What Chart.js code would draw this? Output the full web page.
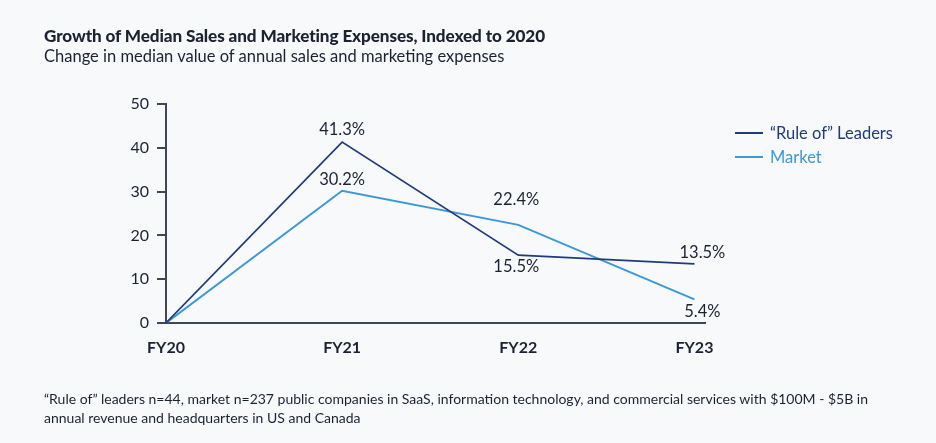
<!DOCTYPE html>
<html>
<head>
<meta charset="utf-8">
<script src="https://cdn.jsdelivr.net/npm/chart.js@4.4.1/dist/chart.umd.min.js"></script>
<style>
  html, body { margin: 0; padding: 0; background: #f8f9fa; }
  #wrap { position: relative; width: 936px; height: 443px; overflow: hidden; font-family: Lato, "Noto Sans", sans-serif; color: #1b2232; }
  #chart { position: absolute; left: 0; top: 0; }
  .txt { position: absolute; left: 44px; white-space: nowrap; }
  #title { top: 25px; font-size: 17.1px; font-weight: 900; letter-spacing: -0.1px; }
  #subtitle { top: 46px; font-size: 16.5px; }
  #note { top: 389px; font-size: 14px; line-height: 19px; }
  #legend { position: absolute; left: 735px; top: 121px; font-size: 16.5px; }
  .lg { display: flex; align-items: center; height: 24px; }
  .lg span.sw { display: inline-block; width: 28px; height: 2px; margin-right: 7px; }
</style>
</head>
<body>
<div id="wrap">
  <canvas id="chart" width="936" height="443"></canvas>
  <div class="txt" id="title">Growth of Median Sales and Marketing Expenses, Indexed to 2020</div>
  <div class="txt" id="subtitle">Change in median value of annual sales and marketing expenses</div>
  <div class="txt" id="note">“Rule of” leaders n=44, market n=237 public companies in SaaS, information technology, and commercial services with $100M - $5B in<br>annual revenue and headquarters in US and Canada</div>
  <div id="legend"></div>
</div>
<script>
// data
const categories = ['FY20', 'FY21', 'FY22', 'FY23'];
const leaders = [0, 41.3, 15.5, 13.5];
const market = [0, 30.2, 22.4, 5.4];
const yTicks = [0, 10, 20, 30, 40, 50];

// label placement (px offset from point), null = no label
const leaderLabelDy = [null, -12, 12, -11];
const marketLabelDy = [null, -11, -25, 12];
const labelDx = [0, 0, -2, 8];

const navy = '#1f3b7c';
const sky = '#3b99d9';
const ink = '#1b2232';
const axisColor = '#3d4757';

const pointLabels = {
  id: 'pointLabels',
  afterDatasetsDraw(chart) {
    const ctx = chart.ctx;
    ctx.save();
    ctx.font = '16.5px Lato, "Noto Sans", sans-serif';
    ctx.fillStyle = ink;
    ctx.textAlign = 'center';
    ctx.textBaseline = 'middle';
    chart.data.datasets.forEach((ds, di) => {
      const meta = chart.getDatasetMeta(di);
      meta.data.forEach((pt, i) => {
        const dy = ds.labelDy[i];
        if (dy === null) return;
        ctx.fillText(ds.data[i].y.toFixed(1) + '%', pt.x + labelDx[i], pt.y + dy);
      });
    });
    ctx.restore();
  }
};

const chart = new Chart(document.getElementById('chart').getContext('2d'), {
  type: 'line',
  data: {
    datasets: [{
      label: '“Rule of” Leaders',
      data: leaders.map((v, i) => ({ x: i, y: v })),
      labelDy: leaderLabelDy,
      borderColor: navy,
      borderWidth: 1.6,
      pointRadius: 0,
      tension: 0
    }, {
      label: 'Market',
      data: market.map((v, i) => ({ x: i, y: v })),
      labelDy: marketLabelDy,
      borderColor: sky,
      borderWidth: 2,
      pointRadius: 0,
      tension: 0
    }]
  },
  options: {
    responsive: false,
    animation: false,
    layout: { padding: { left: 0, right: 231, top: 104, bottom: 80 } },
    plugins: { legend: { display: false }, tooltip: { enabled: false } },
    scales: {
      x: {
        type: 'linear',
        min: 0,
        max: 3.06,
        afterBuildTicks: s => { s.ticks = categories.map((c, i) => ({ value: i })); },
        afterFit: s => { s.height = 40; },
        grid: { display: false, drawTicks: false },
        border: { color: axisColor, width: 2 },
        ticks: {
          callback: v => categories[v],
          color: ink,
          padding: 15,
          maxRotation: 0,
          font: { family: 'Lato, "Noto Sans", sans-serif', size: 16, weight: 'bold' }
        }
      },
      y: {
        min: 0,
        max: 50,
        afterBuildTicks: s => { s.ticks = yTicks.map(v => ({ value: v })); },
        afterFit: s => { s.width = 166; },
        grid: { drawOnChartArea: false, drawTicks: true, tickLength: 9, tickColor: axisColor, lineWidth: 2 },
        border: { color: axisColor, width: 2 },
        ticks: {
          color: ink,
          padding: 8,
          font: { family: 'Lato, "Noto Sans", sans-serif', size: 16 }
        }
      }
    }
  },
  plugins: [pointLabels]
});

// legend from the datasets
const legend = document.getElementById('legend');
chart.data.datasets.forEach(ds => {
  const row = document.createElement('div');
  row.className = 'lg';
  row.style.color = ds.borderColor;
  row.innerHTML = '<span class="sw" style="background:' + ds.borderColor + '"></span>' + ds.label;
  legend.appendChild(row);
});
</script>
</body>
</html>
